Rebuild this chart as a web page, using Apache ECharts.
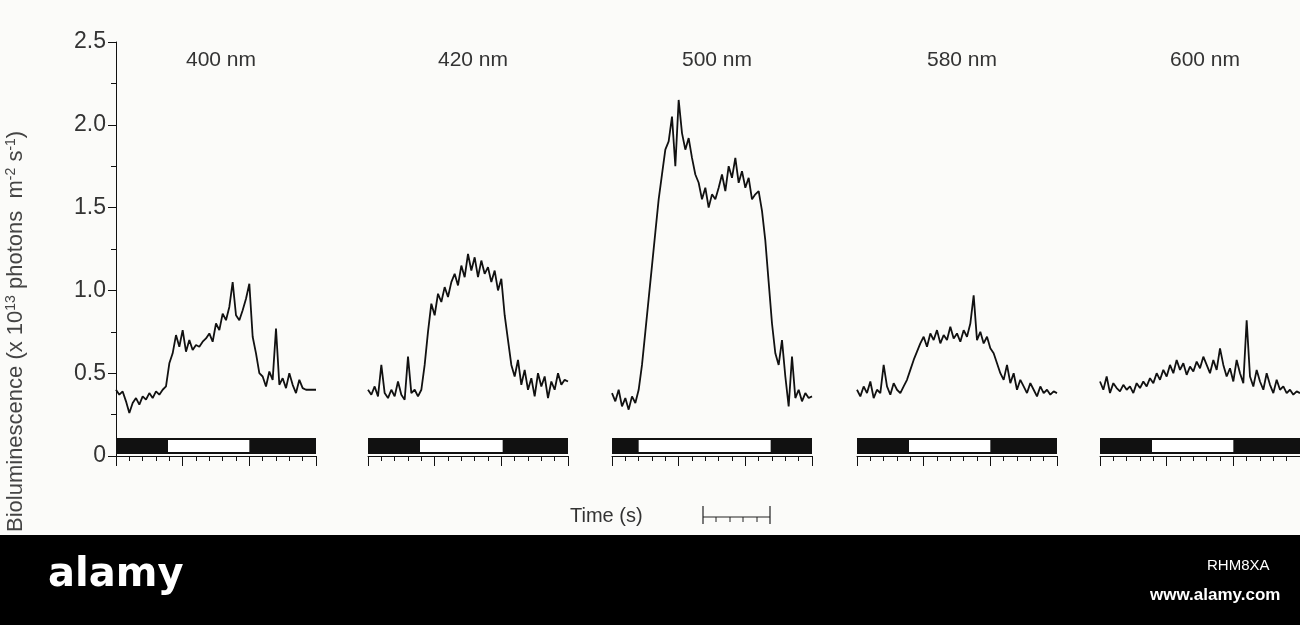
<!DOCTYPE html>
<html><head><meta charset="utf-8">
<script src="https://cdn.jsdelivr.net/npm/echarts@6/dist/echarts.min.js"></script>
<style>html,body{margin:0;padding:0;background:#fbfbf9}#c{width:1300px;height:625px}</style>
</head><body><div id="c"></div>
<script>
const panelLabels = ['400 nm','420 nm','500 nm','580 nm','600 nm'];
const yTicks = [0,0.5,1.0,1.5,2.0,2.5];
const stimOn = [3.9,3.9,2.0,3.9,3.9];
const stimOff = [10,10.1,11.9,10,10];
const trace400 = [0.40,0.37,0.39,0.33,0.26,0.32,0.35,0.31,0.36,0.34,0.38,0.35,0.39,0.37,0.40,0.42,0.56,0.62,0.73,0.66,0.76,0.63,0.70,0.64,0.67,0.66,0.69,0.71,0.74,0.69,0.80,0.76,0.86,0.82,0.90,1.05,0.85,0.82,0.88,0.95,1.04,0.72,0.62,0.50,0.48,0.42,0.51,0.46,0.77,0.43,0.47,0.41,0.50,0.43,0.38,0.46,0.41,0.40,0.40,0.40,0.40];
const trace420 = [0.40,0.37,0.42,0.36,0.55,0.38,0.35,0.40,0.36,0.45,0.37,0.34,0.60,0.38,0.40,0.36,0.40,0.55,0.75,0.92,0.85,0.98,0.93,1.02,0.96,1.05,1.10,1.03,1.15,1.08,1.22,1.12,1.20,1.08,1.18,1.10,1.14,1.05,1.12,1.00,1.07,0.85,0.70,0.55,0.48,0.58,0.43,0.52,0.40,0.47,0.36,0.50,0.42,0.48,0.35,0.45,0.40,0.50,0.43,0.46,0.45];
const trace500 = [0.38,0.33,0.40,0.30,0.35,0.28,0.36,0.32,0.40,0.55,0.75,0.95,1.15,1.35,1.55,1.70,1.85,1.90,2.05,1.75,2.15,1.95,1.85,1.92,1.80,1.70,1.65,1.55,1.62,1.50,1.58,1.55,1.62,1.70,1.60,1.75,1.68,1.80,1.65,1.72,1.62,1.68,1.55,1.58,1.60,1.48,1.30,1.05,0.80,0.62,0.55,0.70,0.48,0.30,0.60,0.35,0.40,0.33,0.38,0.35,0.36];
const trace580 = [0.40,0.36,0.42,0.38,0.45,0.35,0.40,0.38,0.55,0.42,0.37,0.44,0.40,0.38,0.42,0.46,0.52,0.58,0.63,0.68,0.72,0.66,0.74,0.70,0.76,0.68,0.73,0.70,0.78,0.71,0.74,0.69,0.76,0.72,0.80,0.97,0.70,0.75,0.68,0.72,0.65,0.62,0.56,0.50,0.46,0.55,0.44,0.50,0.40,0.46,0.42,0.38,0.44,0.40,0.36,0.42,0.38,0.40,0.37,0.39,0.38];
const trace600 = [0.45,0.40,0.48,0.38,0.44,0.41,0.39,0.43,0.40,0.42,0.38,0.44,0.41,0.45,0.42,0.47,0.44,0.50,0.46,0.52,0.48,0.55,0.50,0.58,0.52,0.56,0.49,0.54,0.51,0.57,0.53,0.60,0.55,0.50,0.58,0.52,0.65,0.55,0.48,0.53,0.45,0.58,0.50,0.44,0.82,0.48,0.42,0.52,0.45,0.40,0.50,0.43,0.38,0.46,0.40,0.42,0.38,0.40,0.37,0.39,0.38];
const traces = [trace400,trace420,trace500,trace580,trace600];
const lefts = [116,368,612,857,1100];
const F = 'Liberation Sans, Arial, sans-serif';
const chart = echarts.init(document.getElementById('c'));
const grid=[],xAxis=[],yAxis=[],series=[],title=[];
traces.forEach((t,i)=>{
  grid.push({left:lefts[i],top:42,width:200,height:414});
  xAxis.push({type:'value',gridIndex:i,min:0,max:15,interval:5,
    axisLine:{lineStyle:{color:'#111',width:1}},axisTick:{length:10,lineStyle:{color:'#111'}},
    minorTick:{show:true,splitNumber:5,length:5,lineStyle:{color:'#111'}},
    axisLabel:{show:false},splitLine:{show:false}});
  yAxis.push({type:'value',gridIndex:i,min:0,max:2.5,interval:0.5,show:i===0,
    axisLine:{show:true,lineStyle:{color:'#111'}},axisTick:{show:true,length:8,lineStyle:{color:'#111'}},
    minorTick:{show:true,splitNumber:2,length:5,lineStyle:{color:'#111'}},
    axisLabel:{fontFamily:F,fontSize:23,color:'#333',margin:10,formatter:v=>v===0?'0':v.toFixed(1)},
    splitLine:{show:false}});
  const step=15/(t.length-1);
  series.push({type:'line',xAxisIndex:i,yAxisIndex:i,symbol:'none',
    data:t.map((v,k)=>[k*step,v]),lineStyle:{color:'#111',width:1.8},
    markArea:{silent:true,data:[
      [{coord:[0,0.012],itemStyle:{color:'#111'}},{coord:[15,0.108]}],
      [{coord:[stimOn[i],0.024],itemStyle:{color:'#fff'}},{coord:[stimOff[i],0.096]}]
    ]}});
  title.push({text:panelLabels[i],left:lefts[i]+100,top:45,textAlign:'center',
    textStyle:{fontFamily:F,fontSize:21,fontWeight:'normal',color:'#333'}});
});
chart.setOption({backgroundColor:'#fbfbf9',animation:false,title,grid,xAxis,yAxis,series,
  graphic:[
    {type:'text',x:4,y:532,rotation:Math.PI/2,style:{
      rich:{n:{fontFamily:F,fontSize:22,fill:'#444'},s:{fontFamily:F,fontSize:14,fill:'#444',verticalAlign:'top',padding:[0,0,10,0]}},
      text:'{n|Bioluminescence (x 10}{s|13}{n| photons  m}{s|-2}{n| s}{s|-1}{n|)}',fill:'#444'}},
    {type:'text',x:570,y:506,style:{text:'Time (s)',fontFamily:F,fontSize:20,fill:'#333'}},
    {type:'line',shape:{x1:703,y1:517,x2:770,y2:517},style:{stroke:'#222',lineWidth:1.2}},
    {type:'line',shape:{x1:703,y1:506,x2:703,y2:524},style:{stroke:'#222',lineWidth:1.2}},
    {type:'line',shape:{x1:770,y1:506,x2:770,y2:524},style:{stroke:'#222',lineWidth:1.2}},
    {type:'line',shape:{x1:716,y1:517,x2:716,y2:522},style:{stroke:'#222'}},
    {type:'line',shape:{x1:730,y1:517,x2:730,y2:522},style:{stroke:'#222'}},
    {type:'line',shape:{x1:743,y1:517,x2:743,y2:522},style:{stroke:'#222'}},
    {type:'line',shape:{x1:757,y1:517,x2:757,y2:522},style:{stroke:'#222'}},
    {type:'rect',shape:{x:0,y:535,width:1300,height:90},style:{fill:'#000'}},
    {type:'text',x:48,y:556,style:{text:'alamy',fontFamily:'DejaVu Sans, sans-serif',fontSize:40,fontWeight:'bold',fill:'#fff'}},
    {type:'text',x:1207,y:558,style:{text:'RHM8XA',fontFamily:F,fontSize:15,fill:'#fff'}},
    {type:'text',x:1150,y:587,style:{text:'www.alamy.com',fontFamily:F,fontSize:17,fontWeight:'bold',fill:'#fff'}}
  ]});
</script></body></html>
